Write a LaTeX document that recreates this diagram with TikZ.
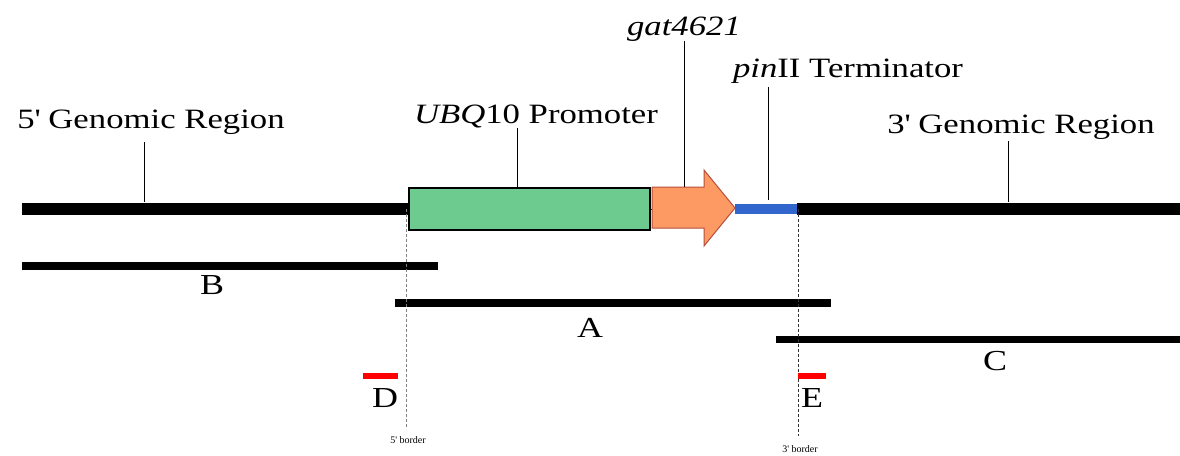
\documentclass[tikz,border=0pt]{standalone}
\usepackage{fontspec}
\setmainfont[FakeStretch=1.24]{Liberation Serif}
\newfontfamily\smallser{Liberation Serif}
\definecolor{promgreen}{HTML}{6DCB8F}
\definecolor{genorange}{HTML}{FD9A64}
\definecolor{genedge}{HTML}{B4503C}
\definecolor{termblue}{HTML}{3366CC}
\definecolor{markred}{HTML}{FF0000}
\begin{document}
\begin{tikzpicture}[x=1pt,y=-1pt,
  biglabel/.style={font=\fontsize{28}{30}\selectfont, anchor=base, inner sep=0pt},
  fraglabel/.style={font=\fontsize{29}{30}\selectfont, anchor=base, inner sep=0pt},
  tinylabel/.style={font=\smallser\fontsize{10}{11}\selectfont, inner sep=0pt},
  genome/.style={line width=12pt, black},
  fragment/.style={line width=8pt, black},
  leader/.style={line width=1pt, black},
  border/.style={line width=1pt, densely dashed},
  redmark/.style={line width=6pt, markred}]
\useasboundingbox (0,0) rectangle (1180,455);

% coordinates
\coordinate (gL) at (22,209);
\coordinate (gP) at (408,209);
\coordinate (tS) at (735,209);
\coordinate (tE) at (797,209);
\coordinate (gR) at (1180,209);

% genome backbone
\draw[genome] (gL) -- (gP);
\draw[genome] (tE) -- (gR);
\draw[line width=1pt] (648,209) -- (653,209);

% promoter box
\node[draw=black, line width=1.5pt, fill=promgreen, minimum width=241pt, minimum height=42pt, inner sep=0pt, anchor=north west] (prom) at (408,187) {};

% gene arrow
\draw[fill=genorange, draw=genedge, line width=1pt, line join=miter]
  (652,187) -- (704,187) -- (704,170) -- (735,208) -- (704,246) -- (704,228) -- (652,228) -- cycle;
\coordinate (gat) at (684,187);

% terminator
\draw[line width=10pt, termblue] (tS) -- (tE);

% labels
\node[biglabel] (l5) at (151,128) {5\textquotesingle\ Genomic Region};
\node[biglabel] (lubq) at (536,123) {\textit{UBQ}10 Promoter};
\node[biglabel] (lgat) at (684,35) {\textit{gat4621}};
\node[biglabel] (lpin) at (848,77) {\textit{pin}II Terminator};
\node[biglabel] (l3) at (1021,133) {3\textquotesingle\ Genomic Region};

% leader lines
\coordinate (a5) at (144,142); \coordinate (b5) at (144,202);
\coordinate (aubq) at (517,128);
\coordinate (agat) at (684,41);
\coordinate (apin) at (768,87); \coordinate (bpin) at (768,200);
\coordinate (a3) at (1008,141); \coordinate (b3) at (1008,202);
\draw[leader] (a5) -- (b5);
\draw[leader] (aubq) -- (aubq |- prom.north);
\draw[leader] (agat) -- (gat);
\draw[leader] (apin) -- (bpin);
\draw[leader] (a3) -- (b3);

% fragments
\coordinate (bL) at (22,266); \coordinate (bR) at (438,266);
\coordinate (aL) at (395,303); \coordinate (aR) at (831,303);
\coordinate (cL) at (776,339); \coordinate (cR) at (1180,339);
\draw[fragment] (bL) -- (bR);
\draw[fragment] (aL) -- (aR);
\draw[fragment, line width=7pt] (cL) -- (cR);
\node[fraglabel] (lB) at (212,294) {B};
\node[fraglabel] (lA) at (590,337) {A};
\node[fraglabel] (lC) at (995,370) {C};

% borders
\coordinate (d5a) at (406,209); \coordinate (d5b) at (406,427);
\coordinate (d3a) at (798,209); \coordinate (d3b) at (798,436);
\draw[border, gray] (d5a) -- (d5b);
\draw[border, black!80] (d3a) -- (d3b);
\node[tinylabel] (b5lab) at (408,440) {5\textquotesingle\ border};
\node[tinylabel] (b3lab) at (800,449) {3\textquotesingle\ border};

% red markers
\coordinate (dL) at (363,376); \coordinate (dR) at (398,376);
\coordinate (eL) at (798,376); \coordinate (eR) at (826,376);
\draw[redmark] (dL) -- (dR);
\draw[redmark] (eL) -- (eR);
\node[fraglabel] (lD) at (385,407) {D};
\node[fraglabel] (lE) at (812,407) {E};
\end{tikzpicture}
\end{document}
